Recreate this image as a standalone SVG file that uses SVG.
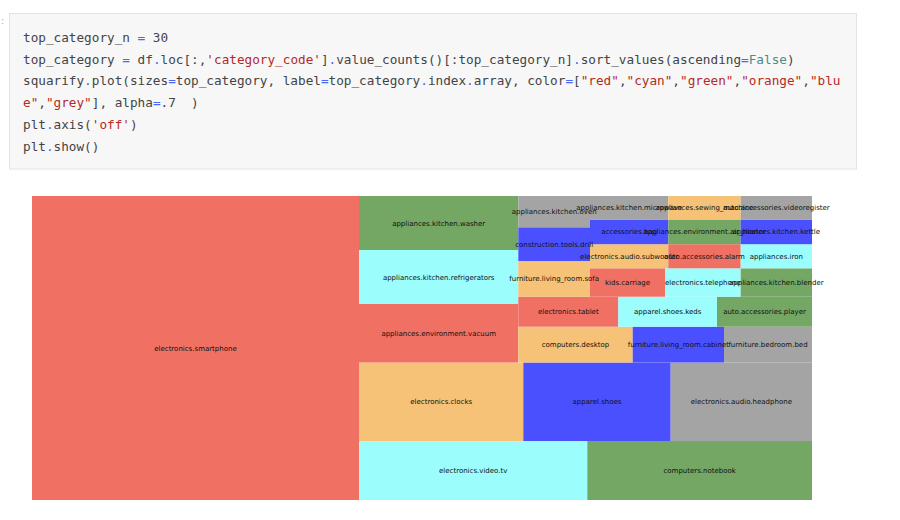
<svg xmlns="http://www.w3.org/2000/svg" width="900" height="520" viewBox="0 0 900 520">
<style>
.code{font-family:"DejaVu Sans Mono","Liberation Mono",monospace;font-size:12.7px;fill:#444444}
.op{fill:#4a66f5}
.st{fill:#b52a25}
.kw{fill:#4f8a8a}
.lbl{font-family:"DejaVu Sans","Liberation Sans",sans-serif;font-size:7px;fill:#111;text-anchor:middle}
.red{fill:#f07064}
.cyan{fill:#9cfdfd}
.green{fill:#74a664}
.orange{fill:#f5c277}
.blue{fill:#4a50fe}
.grey{fill:#a4a4a4}
</style>
<rect width="900" height="520" fill="#ffffff"/>
<text x="1" y="24" font-family="DejaVu Sans,sans-serif" font-size="9" fill="#aaaaaa">:</text>
<g id="code-cell">
<rect x="9.5" y="13.5" width="847" height="155.5" fill="#f7f7f7" stroke="#e3e3e3" stroke-width="1"/>
<text class="code" x="23" y="42" xml:space="preserve">top_category_n <tspan class="op">=</tspan> 30</text>
<text class="code" x="23" y="63.7" xml:space="preserve">top_category <tspan class="op">=</tspan> df<tspan class="op">.</tspan>loc[:,<tspan class="st">'category_code'</tspan>]<tspan class="op">.</tspan>value_counts()[:top_category_n]<tspan class="op">.</tspan>sort_values(ascending<tspan class="op">=</tspan><tspan class="kw">False</tspan>)</text>
<text class="code" x="23" y="85.4" xml:space="preserve">squarify<tspan class="op">.</tspan>plot(sizes<tspan class="op">=</tspan>top_category, label<tspan class="op">=</tspan>top_category<tspan class="op">.</tspan>index<tspan class="op">.</tspan>array, color<tspan class="op">=</tspan>[<tspan class="st">"red"</tspan>,<tspan class="st">"cyan"</tspan>,<tspan class="st">"green"</tspan>,<tspan class="st">"orange"</tspan>,<tspan class="st">"blu</tspan></text>
<text class="code" x="23" y="107.1" xml:space="preserve"><tspan class="st">e"</tspan>,<tspan class="st">"grey"</tspan>], alpha<tspan class="op">=</tspan>.7  )</text>
<text class="code" x="23" y="128.8" xml:space="preserve">plt<tspan class="op">.</tspan>axis(<tspan class="st">'off'</tspan>)</text>
<text class="code" x="23" y="150.5" xml:space="preserve">plt<tspan class="op">.</tspan>show()</text>
</g>
<g id="treemap">
<g id="n1"><rect class="red" x="32" y="196" width="327" height="304"/></g>
<g id="n2"><rect class="cyan" x="359" y="441" width="228.3" height="59"/></g>
<g id="n3"><rect class="green" x="587.3" y="441" width="224.7" height="59"/></g>
<g id="n4"><rect class="orange" x="359" y="362.5" width="164.3" height="78.5"/></g>
<g id="n5"><rect class="blue" x="523.3" y="362.5" width="147.4" height="78.5"/></g>
<g id="n6"><rect class="grey" x="670.7" y="362.5" width="141.3" height="78.5"/></g>
<g id="n7"><rect class="red" x="359" y="304" width="159.3" height="58.5"/></g>
<g id="n8"><rect class="cyan" x="359" y="250" width="159.3" height="54"/></g>
<g id="n9"><rect class="green" x="359" y="196" width="159.3" height="54"/></g>
<g id="n10"><rect class="orange" x="518.3" y="326.7" width="114.4" height="35.8"/></g>
<g id="n11"><rect class="blue" x="632.7" y="326.7" width="91.3" height="35.8"/></g>
<g id="n12"><rect class="grey" x="724" y="326.7" width="88" height="35.8"/></g>
<g id="n13"><rect class="red" x="518.3" y="296.7" width="100" height="30"/></g>
<g id="n14"><rect class="cyan" x="618.3" y="296.7" width="98.7" height="30"/></g>
<g id="n15"><rect class="green" x="717" y="296.7" width="95" height="30"/></g>
<g id="n16"><rect class="orange" x="518.3" y="261" width="71.7" height="35.7"/></g>
<g id="n17"><rect class="blue" x="518.3" y="227.3" width="71.7" height="33.7"/></g>
<g id="n18"><rect class="grey" x="518.3" y="196" width="71.7" height="31.3"/></g>
<g id="n19"><rect class="red" x="590" y="268.3" width="75" height="28.4"/></g>
<g id="n20"><rect class="cyan" x="665" y="268.3" width="75.7" height="28.4"/></g>
<g id="n21"><rect class="green" x="740.7" y="268.3" width="71.3" height="28.4"/></g>
<g id="n22"><rect class="orange" x="590" y="244.2" width="78.3" height="24.1"/></g>
<g id="n23"><rect class="blue" x="590" y="219.5" width="78.3" height="24.7"/></g>
<g id="n24"><rect class="grey" x="590" y="196" width="78.3" height="23.5"/></g>
<g id="n25"><rect class="red" x="668.3" y="244.2" width="72.4" height="24.1"/></g>
<g id="n26"><rect class="cyan" x="740.7" y="244.2" width="71.3" height="24.1"/></g>
<g id="n27"><rect class="green" x="668.3" y="219.5" width="72.4" height="24.7"/></g>
<g id="n28"><rect class="orange" x="668.3" y="196" width="72.4" height="23.5"/></g>
<g id="n29"><rect class="blue" x="740.7" y="219.5" width="71.3" height="24.7"/></g>
<g id="n30"><rect class="grey" x="740.7" y="196" width="71.3" height="23.5"/></g>
</g>
<g id="labels" class="lbl">
<text class="lbl" x="195.5" y="350.5">electronics.smartphone</text>
<text class="lbl" x="473.2" y="473">electronics.video.tv</text>
<text class="lbl" x="699.7" y="473">computers.notebook</text>
<text class="lbl" x="441.2" y="404.3">electronics.clocks</text>
<text class="lbl" x="597" y="404.3">apparel.shoes</text>
<text class="lbl" x="741.4" y="404.3">electronics.audio.headphone</text>
<text class="lbl" x="438.7" y="335.8">appliances.environment.vacuum</text>
<text class="lbl" x="438.7" y="279.5">appliances.kitchen.refrigerators</text>
<text class="lbl" x="438.7" y="225.5">appliances.kitchen.washer</text>
<text class="lbl" x="575.5" y="347.1">computers.desktop</text>
<text class="lbl" x="678.4" y="347.1">furniture.living_room.cabinet</text>
<text class="lbl" x="768" y="347.1">furniture.bedroom.bed</text>
<text class="lbl" x="568.3" y="314.2">electronics.tablet</text>
<text class="lbl" x="667.7" y="314.2">apparel.shoes.keds</text>
<text class="lbl" x="764.5" y="314.2">auto.accessories.player</text>
<text class="lbl" x="554.2" y="281.3">furniture.living_room.sofa</text>
<text class="lbl" x="554.2" y="246.7">construction.tools.drill</text>
<text class="lbl" x="554.2" y="214.2">appliances.kitchen.oven</text>
<text class="lbl" x="627.5" y="285">kids.carriage</text>
<text class="lbl" x="702.8" y="285">electronics.telephone</text>
<text class="lbl" x="776.3" y="285">appliances.kitchen.blender</text>
<text class="lbl" x="629.2" y="258.8">electronics.audio.subwoofer</text>
<text class="lbl" x="629.2" y="234.4">accessories.bag</text>
<text class="lbl" x="629.2" y="210.3">appliances.kitchen.microwave</text>
<text class="lbl" x="704.5" y="258.8">auto.accessories.alarm</text>
<text class="lbl" x="776.3" y="258.8">appliances.iron</text>
<text class="lbl" x="704.5" y="234.4">appliances.environment.air_heater</text>
<text class="lbl" x="704.5" y="210.3">appliances.sewing_machine</text>
<text class="lbl" x="776.3" y="234.4">appliances.kitchen.kettle</text>
<text class="lbl" x="776.3" y="210.3">auto.accessories.videoregister</text>
</g>
</svg>
